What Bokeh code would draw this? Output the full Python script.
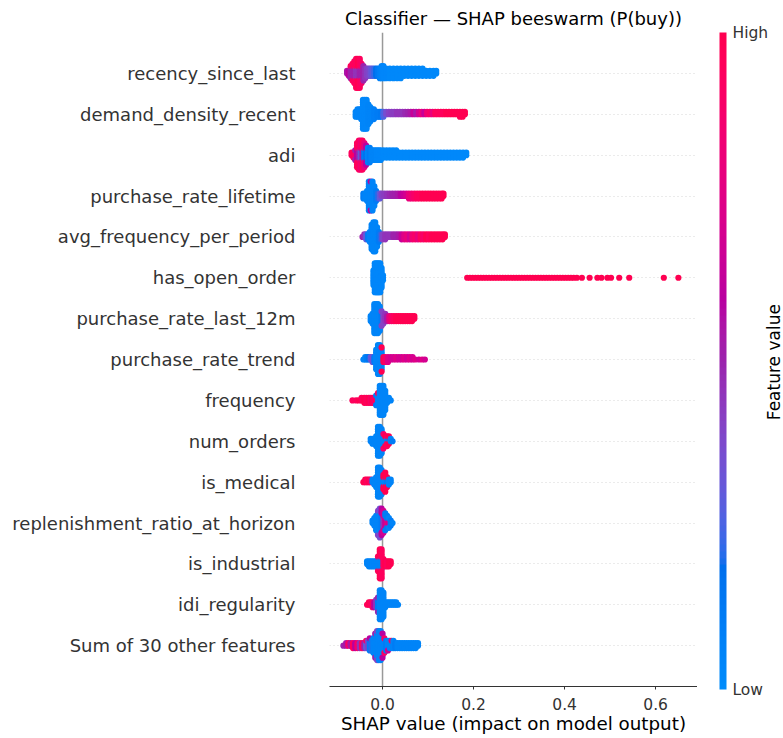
import numpy as np
from bokeh.plotting import figure
from bokeh.layouts import row
from bokeh.models import (ColumnDataSource, ColorBar, LinearColorMapper, FixedTicker,
                          Span, Label, Range1d, PrintfTickFormatter)
from bokeh.embed import file_html
from bokeh.resources import INLINE

# ---------------- data ----------------
FEATURES = ["Sum of 30 other features", "idi_regularity", "is_industrial",
            "replenishment_ratio_at_horizon", "is_medical", "num_orders", "frequency",
            "purchase_rate_trend", "purchase_rate_last_12m", "has_open_order",
            "avg_frequency_per_period", "purchase_rate_lifetime", "adi",
            "demand_density_recent", "recency_since_last"]
X_TICKS = [0.0, 0.2, 0.4, 0.6]

# each feature: SHAP value of a bin (x), number of samples in it (n), feature value 0..1 (f)
recency_x = [-0.078, -0.074, -0.070, -0.070, -0.066, -0.066, -0.062, -0.062, -0.058, -0.058,
             -0.054, -0.054, -0.050, -0.050, -0.046, -0.046, -0.042, -0.038, -0.034, -0.030,
             -0.026, -0.022, -0.018, -0.014, -0.010, -0.006, -0.002, 0.002, 0.008, 0.016,
             0.024, 0.032, 0.040, 0.048, 0.056, 0.064, 0.072, 0.080, 0.088, 0.096,
             0.104, 0.112, 0.118]
recency_n = [2, 3, 5, 1, 5, 3, 5, 5, 5, 8,
             5, 8, 5, 8, 5, 4, 7, 5, 4, 4,
             4, 4, 4, 4, 4, 5, 6, 6, 5, 5,
             5, 5, 5, 4, 4, 4, 4, 4, 4, 3,
             3, 3, 2]
recency_f = [0.55, 0.6, 0.5, 0.95, 0.5, 0.95, 0.5, 0.95, 0.45, 0.95,
             0.45, 1.0, 0.5, 0.95, 0.5, 0.9, 0.5, 0.45, 0.4, 0.38,
             0.32, 0.28, 0.22, 0.18, 0.12, 0.08, 0.05, 0.03, 0.03, 0.02,
             0.02, 0.02, 0.02, 0.02, 0.02, 0.02, 0.02, 0.02, 0.02, 0.02,
             0.02, 0.02, 0.02]

demand_x = [-0.059, -0.055, -0.051, -0.047, -0.043, -0.039, -0.035, -0.031, -0.027, -0.023,
            -0.019, -0.015, -0.011, -0.007, -0.003, 0.002, 0.008, 0.014, 0.020, 0.026,
            0.032, 0.038, 0.044, 0.050, 0.056, 0.062, 0.068, 0.074, 0.080, 0.086,
            0.092, 0.098, 0.104, 0.110, 0.116, 0.122, 0.128, 0.134, 0.140, 0.146,
            0.152, 0.158, 0.164, 0.170, 0.176, 0.181]
demand_n = [3, 4, 4, 5, 13, 13, 13, 9, 7, 5,
            5, 3, 3, 3, 3, 3, 2, 2, 2, 2,
            2, 2, 2, 2, 2, 2, 2, 2, 2, 2,
            2, 2, 2, 2, 2, 2, 2, 2, 2, 2,
            2, 2, 2, 3, 3, 2]
demand_f = [0.05, 0.05, 0.05, 0.05, 0.03, 0.03, 0.03, 0.05, 0.05, 0.05,
            0.08, 0.08, 0.1, 0.1, 0.12, 0.25, 0.35, 0.4, 0.42, 0.42,
            0.45, 0.45, 0.45, 0.48, 0.5, 0.55, 0.65, 0.55, 0.7, 0.8,
            0.65, 0.85, 0.9, 0.8, 0.95, 0.95, 0.95, 0.95, 1.0, 1.0,
            1.0, 1.0, 1.0, 1.0, 1.0, 1.0]

adi_x = [-0.068, -0.064, -0.060, -0.060, -0.056, -0.056, -0.052, -0.052, -0.048, -0.048,
         -0.044, -0.044, -0.040, -0.040, -0.036, -0.036, -0.032, -0.028, -0.024, -0.020,
         -0.016, -0.012, -0.008, -0.004, 0.002, 0.009, 0.016, 0.023, 0.030, 0.037,
         0.044, 0.051, 0.058, 0.065, 0.072, 0.079, 0.086, 0.093, 0.100, 0.107,
         0.114, 0.121, 0.128, 0.135, 0.142, 0.149, 0.156, 0.163, 0.170, 0.177,
         0.184]
adi_n = [2, 3, 3, 2, 5, 6, 5, 8, 5, 8,
         5, 8, 5, 6, 5, 4, 7, 7, 5, 5,
         5, 5, 5, 5, 4, 4, 4, 4, 4, 3,
         3, 3, 3, 3, 3, 3, 3, 3, 3, 3,
         3, 3, 3, 3, 3, 3, 3, 3, 3, 3,
         2]
adi_f = [0.95, 0.95, 0.9, 0.5, 0.6, 0.95, 0.5, 0.95, 0.3, 0.85,
         0.5, 0.95, 0.1, 0.8, 0.15, 0.6, 0.05, 0.1, 0.05, 0.05,
         0.05, 0.03, 0.03, 0.03, 0.02, 0.02, 0.02, 0.02, 0.02, 0.02,
         0.02, 0.02, 0.02, 0.02, 0.02, 0.02, 0.02, 0.02, 0.02, 0.02,
         0.02, 0.02, 0.02, 0.02, 0.02, 0.02, 0.02, 0.02, 0.02, 0.02,
         0.02]

prl_x = [-0.042, -0.038, -0.034, -0.030, -0.026, -0.026, -0.022, -0.018, -0.014, -0.010,
         -0.006, -0.002, 0.004, 0.010, 0.016, 0.022, 0.028, 0.034, 0.040, 0.046,
         0.052, 0.058, 0.064, 0.070, 0.076, 0.082, 0.088, 0.094, 0.100, 0.106,
         0.112, 0.118, 0.124, 0.130, 0.134]
prl_n = [3, 3, 5, 13, 11, 2, 13, 9, 5, 3,
         3, 2, 2, 2, 2, 2, 2, 2, 2, 2,
         2, 3, 3, 3, 3, 3, 3, 3, 3, 3,
         3, 3, 3, 3, 2]
prl_f = [0.1, 0.05, 0.05, 0.05, 0.05, 0.6, 0.05, 0.05, 0.1, 0.2,
         0.3, 0.4, 0.42, 0.45, 0.48, 0.5, 0.52, 0.55, 0.6, 0.65,
         0.7, 0.8, 0.85, 0.9, 0.95, 0.95, 1.0, 1.0, 1.0, 1.0,
         1.0, 1.0, 1.0, 1.0, 1.0]

afp_x = [-0.044, -0.040, -0.036, -0.032, -0.028, -0.024, -0.020, -0.016, -0.012, -0.008,
         -0.004, 0.000, 0.006, 0.012, 0.018, 0.024, 0.030, 0.036, 0.042, 0.048,
         0.054, 0.060, 0.066, 0.072, 0.078, 0.084, 0.090, 0.096, 0.102, 0.108,
         0.114, 0.120, 0.126, 0.132, 0.137]
afp_n = [1, 2, 3, 3, 5, 11, 13, 13, 9, 5,
         3, 3, 3, 2, 2, 2, 2, 2, 3, 3,
         3, 3, 3, 3, 3, 3, 3, 3, 3, 3,
         3, 3, 3, 3, 2]
afp_f = [0.5, 0.45, 0.3, 0.1, 0.05, 0.05, 0.05, 0.05, 0.05, 0.1,
         0.2, 0.4, 0.45, 0.45, 0.45, 0.5, 0.5, 0.55, 0.65, 0.75,
         0.8, 0.7, 0.85, 0.9, 0.8, 0.95, 0.9, 1.0, 0.95, 1.0,
         1.0, 1.0, 1.0, 1.0, 1.0]

hoo_x = [-0.020, -0.017, -0.014, -0.011, -0.008, -0.005, -0.002, 0.001,
         0.186, 0.192, 0.198, 0.204, 0.210, 0.216, 0.222, 0.228, 0.234, 0.240,
         0.246, 0.252, 0.258, 0.264, 0.270, 0.276, 0.282, 0.288, 0.294, 0.300,
         0.306, 0.312, 0.318, 0.324, 0.330, 0.336, 0.342, 0.348, 0.354, 0.360,
         0.366, 0.372, 0.378, 0.384, 0.390, 0.396, 0.402, 0.408, 0.414, 0.420,
         0.427, 0.438, 0.455, 0.472, 0.481, 0.494, 0.502, 0.520, 0.542, 0.618,
         0.650]
hoo_n = [7, 13, 13, 13, 13, 13, 9, 3,
         1, 1, 1, 1, 1, 1, 1, 1, 1, 1,
         1, 1, 1, 1, 1, 1, 1, 1, 1, 1,
         1, 1, 1, 1, 1, 1, 1, 1, 1, 1,
         1, 1, 1, 1, 1, 1, 1, 1, 1, 1,
         1, 1, 1, 1, 1, 1, 1, 1, 1, 1,
         1]
hoo_f = [0.03, 0.03, 0.03, 0.03, 0.03, 0.03, 0.03, 0.03,
         1.0, 1.0, 1.0, 1.0, 1.0, 1.0, 1.0, 1.0, 1.0, 1.0,
         1.0, 1.0, 1.0, 1.0, 1.0, 1.0, 1.0, 1.0, 1.0, 1.0,
         1.0, 1.0, 1.0, 1.0, 1.0, 1.0, 1.0, 1.0, 1.0, 1.0,
         1.0, 1.0, 1.0, 1.0, 1.0, 1.0, 1.0, 1.0, 1.0, 1.0,
         1.0, 1.0, 1.0, 1.0, 1.0, 1.0, 1.0, 1.0, 1.0, 1.0,
         1.0]

p12_x = [-0.026, -0.022, -0.018, -0.014, -0.010, -0.006, -0.002, -0.002, 0.002, 0.006,
         0.010, 0.015, 0.020, 0.025, 0.030, 0.035, 0.040, 0.045, 0.050, 0.055,
         0.060, 0.065, 0.070]
p12_n = [3, 5, 13, 13, 13, 11, 5, 2, 5, 4,
         3, 3, 3, 3, 3, 3, 3, 3, 3, 3,
         3, 3, 2]
p12_f = [0.05, 0.05, 0.05, 0.05, 0.05, 0.05, 0.1, 0.4, 0.4, 0.45,
         0.55, 0.8, 0.9, 0.95, 1.0, 1.0, 1.0, 1.0, 1.0, 1.0,
         1.0, 1.0, 1.0]

prt_x = [-0.042, -0.038, -0.034, -0.030, -0.026, -0.022, -0.018, -0.014, -0.010, -0.006,
         -0.002, -0.002, 0.002, 0.006, 0.012, 0.018, 0.024, 0.030, 0.036, 0.042,
         0.048, 0.054, 0.060, 0.066, 0.072, 0.080, 0.087, 0.093]
prt_n = [1, 2, 2, 2, 2, 3, 3, 9, 13, 13,
         9, 2, 3, 3, 3, 2, 2, 2, 2, 2,
         2, 2, 2, 2, 1, 1, 1, 1]
prt_f = [0.05, 0.05, 0.1, 0.15, 0.3, 0.35, 0.1, 0.05, 0.05, 0.05,
         0.05, 1.0, 1.0, 0.9, 0.75, 0.7, 0.7, 0.75, 0.7, 0.7,
         0.75, 0.7, 0.75, 0.7, 0.75, 0.7, 0.75, 0.7]

freq_x = [-0.066, -0.058, -0.052, -0.046, -0.040, -0.035, -0.030, -0.026, -0.022, -0.018,
          -0.014, -0.014, -0.010, -0.010, -0.006, -0.002, 0.002, 0.006, 0.010, 0.014,
          0.018]
freq_n = [1, 1, 1, 2, 3, 3, 3, 3, 3, 3,
          3, 2, 5, 1, 13, 13, 13, 9, 3, 2,
          1]
freq_f = [0.95, 0.95, 1.0, 0.95, 1.0, 0.95, 1.0, 0.9, 1.0, 0.9,
          0.95, 0.1, 0.05, 0.95, 0.05, 0.05, 0.05, 0.05, 0.05, 0.05,
          0.05]

nord_x = [-0.026, -0.022, -0.018, -0.014, -0.010, -0.006, -0.002, 0.002, 0.002, 0.006,
          0.006, 0.010, 0.010, 0.014, 0.014, 0.018, 0.022]
nord_n = [2, 3, 3, 5, 13, 13, 11, 5, 2, 3,
          2, 2, 3, 2, 2, 2, 1]
nord_f = [0.05, 0.05, 0.05, 0.05, 0.05, 0.05, 0.05, 0.05, 0.9, 0.05,
          1.0, 0.05, 0.95, 0.1, 1.0, 0.05, 0.1]

med_x = [-0.042, -0.038, -0.034, -0.030, -0.026, -0.022, -0.018, -0.014, -0.010, -0.006,
         -0.002, 0.002, 0.002, 0.006, 0.006, 0.010, 0.010, 0.014, 0.018]
med_n = [1, 2, 2, 2, 2, 2, 3, 5, 13, 13,
         11, 3, 4, 3, 6, 3, 2, 3, 2]
med_f = [1.0, 1.0, 0.95, 1.0, 0.9, 0.05, 0.05, 0.05, 0.05, 0.05,
         0.05, 0.05, 1.0, 0.05, 1.0, 0.1, 1.0, 0.05, 0.05]

rep_x = [-0.022, -0.018, -0.014, -0.010, -0.010, -0.006, -0.006, -0.002, -0.002, 0.002,
         0.002, 0.006, 0.006, 0.010, 0.010, 0.014, 0.014, 0.018, 0.022]
rep_n = [2, 4, 7, 9, 2, 9, 4, 7, 5, 5,
         5, 5, 3, 3, 3, 3, 2, 3, 1]
rep_f = [0.05, 0.05, 0.05, 0.05, 0.4, 0.05, 0.35, 0.1, 0.6, 0.45,
         0.7, 0.65, 0.1, 0.75, 0.1, 0.7, 0.05, 0.1, 0.05]

ind_x = [-0.034, -0.030, -0.026, -0.022, -0.018, -0.014, -0.010, -0.010, -0.006, -0.006,
         -0.002, -0.002, 0.002, 0.006, 0.010, 0.014, 0.018]
ind_n = [2, 3, 3, 3, 3, 3, 5, 2, 5, 8,
         5, 8, 4, 3, 3, 3, 2]
ind_f = [0.05, 0.05, 0.05, 0.05, 0.05, 0.05, 0.05, 0.95, 0.05, 1.0,
         0.05, 0.95, 0.95, 1.0, 0.95, 1.0, 1.0]

idi_x = [-0.034, -0.030, -0.026, -0.022, -0.018, -0.014, -0.010, -0.010, -0.006, -0.002,
         0.002, 0.006, 0.010, 0.014, 0.018, 0.022, 0.026, 0.030, 0.034]
idi_n = [1, 2, 2, 3, 3, 4, 5, 2, 13, 13,
         11, 3, 2, 2, 2, 2, 2, 2, 1]
idi_f = [0.95, 1.0, 0.95, 0.9, 0.6, 0.45, 0.1, 0.5, 0.05, 0.05,
         0.05, 0.05, 0.05, 0.05, 0.05, 0.05, 0.05, 0.05, 0.05]

sum_x = [-0.086, -0.080, -0.075, -0.070, -0.065, -0.060, -0.055, -0.050, -0.045, -0.040,
         -0.036, -0.036, -0.032, -0.028, -0.028, -0.024, -0.020, -0.016, -0.016, -0.012,
         -0.012, -0.008, -0.004, 0.000, 0.000, 0.004, 0.004, 0.008, 0.012, 0.012,
         0.016, 0.020, 0.020, 0.024, 0.028, 0.033, 0.038, 0.043, 0.048, 0.053,
         0.058, 0.063, 0.068, 0.073, 0.078]
sum_n = [1, 2, 2, 2, 3, 3, 3, 3, 3, 3,
         3, 1, 4, 5, 1, 5, 7, 9, 2, 11,
         2, 13, 13, 9, 2, 5, 2, 5, 4, 1,
         4, 3, 1, 4, 3, 3, 3, 3, 3, 3,
         3, 3, 3, 3, 2]
sum_f = [0.5, 0.55, 0.9, 0.55, 0.95, 0.6, 0.9, 0.45, 0.95, 0.5,
         0.3, 0.9, 0.4, 0.1, 0.6, 0.2, 0.05, 0.05, 0.5, 0.05,
         0.4, 0.05, 0.05, 0.05, 0.6, 0.05, 0.9, 0.1, 0.05, 0.7,
         0.05, 0.05, 0.9, 0.05, 0.1, 0.05, 0.05, 0.05, 0.05, 0.05,
         0.05, 0.05, 0.05, 0.05, 0.05]

ROW_DATA = [(sum_x, sum_n, sum_f), (idi_x, idi_n, idi_f), (ind_x, ind_n, ind_f),
            (rep_x, rep_n, rep_f), (med_x, med_n, med_f), (nord_x, nord_n, nord_f),
            (freq_x, freq_n, freq_f), (prt_x, prt_n, prt_f), (p12_x, p12_n, p12_f),
            (hoo_x, hoo_n, hoo_f), (afp_x, afp_n, afp_f), (prl_x, prl_n, prl_f),
            (adi_x, adi_n, adi_f), (demand_x, demand_n, demand_f),
            (recency_x, recency_n, recency_f)]

# ---------------- colour map (SHAP red_blue, LCH interpolation) ----------------
def lch_to_hex(L, C, H):
    a, b = C * np.cos(H), C * np.sin(H)
    fy = (L + 16) / 116
    fx, fz = fy + a / 500, fy - b / 200
    def finv(t):
        return t ** 3 if t > 6 / 29 else 3 * (6 / 29) ** 2 * (t - 4 / 29)
    X, Y, Z = 0.95047 * finv(fx), finv(fy), 1.08883 * finv(fz)
    lin = [3.2406 * X - 1.5372 * Y - 0.4986 * Z,
           -0.9689 * X + 1.8758 * Y + 0.0415 * Z,
           0.0557 * X - 0.2040 * Y + 1.0570 * Z]
    out = []
    for c in lin:
        c = max(c, 0.0)
        c = 1.055 * c ** (1 / 2.4) - 0.055 if c > 0.0031308 else 12.92 * c
        out.append(int(round(min(max(c, 0.0), 1.0) * 255)))
    return "#%02x%02x%02x" % tuple(out)

NSTEP = 100
blue_lch = (54.0, 70.0, 4.6588)
red_lch = (54.0, 90.0, 0.35470565 + 2 * np.pi)
l_vals = list(np.linspace(blue_lch[0], 40.0, NSTEP // 2)) + list(np.linspace(40.0, red_lch[0], NSTEP // 2))
c_vals = np.linspace(blue_lch[1], red_lch[1], NSTEP)
h_vals = np.linspace(blue_lch[2], red_lch[2], NSTEP)
PALETTE = [lch_to_hex(l, c, h) for l, c, h in zip(l_vals, c_vals, h_vals)]

# ---------------- beeswarm layout ----------------
DY = 0.059  # vertical step between stacked points (row units)
px, py, pc = [], [], []
for r, (xs, ns, fs) in enumerate(ROW_DATA):
    assert len(xs) == len(ns) == len(fs), (r, len(xs), len(ns), len(fs))
    level = {}
    for x, n, f in zip(xs, ns, fs):
        key = round(x, 4)
        for _ in range(n):
            k = level.get(key, 0)
            level[key] = k + 1
            off = ((k + 1) // 2) * (1 if k % 2 else -1)
            px.append(x)
            py.append(r + off * DY)
            pc.append(PALETTE[int(round(f * (NSTEP - 1)))])

FONT = "DejaVu Sans"
p = figure(width=697, height=738, output_backend="svg", toolbar_location=None,
           x_range=Range1d(-0.1165, 0.692), y_range=Range1d(-1, 15),
           min_border_left=329, min_border_right=0, min_border_top=32, min_border_bottom=52,
           title="Classifier \u2014 SHAP beeswarm (P(buy))")
p.outline_line_color = None
p.background_fill_color = "white"
p.border_fill_color = "white"

p.title.align = "center"
p.title.text_font = FONT
p.title.text_font_size = "18px"
p.title.text_font_style = "normal"
p.title.text_color = "#000000"
p.title.standoff = 7

# grid: dotted line per feature row
p.xgrid.grid_line_color = None
p.ygrid.ticker = FixedTicker(ticks=list(range(len(FEATURES))))
p.ygrid.grid_line_color = "#cccccc"
p.ygrid.grid_line_width = 0.8
p.ygrid.grid_line_dash = "1 3"

p.add_layout(Span(location=0, dimension="height", line_color="#999999",
                  line_width=1.5, level="underlay"))

src = ColumnDataSource(dict(x=px, y=py, c=pc))
p.scatter("x", "y", source=src, size=6.2, fill_color="c", line_color=None)

# y axis: feature names
ya = p.yaxis[0]
ya.ticker = FixedTicker(ticks=list(range(len(FEATURES))))
ya.major_label_overrides = {i: name for i, name in enumerate(FEATURES)}
ya.axis_line_color = None
ya.major_tick_line_color = None
ya.minor_tick_line_color = None
ya.major_tick_out = 0
ya.major_tick_in = 0
ya.major_label_standoff = 34
ya.major_label_text_font = FONT
ya.major_label_text_font_size = "18px"
ya.major_label_text_color = "#333333"

# x axis
xa = p.xaxis[0]
xa.ticker = FixedTicker(ticks=X_TICKS)
xa.formatter = PrintfTickFormatter(format="%.1f")
xa.axis_line_color = "#333333"
xa.axis_line_width = 1.1
xa.major_tick_line_color = "#333333"
xa.major_tick_out = 3
xa.major_tick_in = 0
xa.minor_tick_line_color = None
xa.major_label_standoff = 8
xa.major_label_text_font = FONT
xa.major_label_text_font_size = "15.5px"
xa.major_label_text_color = "#333333"
xa.axis_label = "SHAP value (impact on model output)"
xa.axis_label_text_font = FONT
xa.axis_label_text_font_size = "18.3px"
xa.axis_label_text_font_style = "normal"
xa.axis_label_text_color = "#000000"
xa.axis_label_standoff = 0

# ---------------- colour bar panel (second, narrow figure) ----------------
p2 = figure(width=86, height=738, output_backend="svg", toolbar_location=None,
            x_range=Range1d(0, 86), y_range=Range1d(0, 738),
            x_axis_type=None, y_axis_type=None,
            min_border_left=0, min_border_right=0, min_border_top=0, min_border_bottom=0)
p2.outline_line_color = None
p2.background_fill_color = "white"
p2.border_fill_color = "white"

mapper = LinearColorMapper(palette=PALETTE, low=0, high=1)
cb = ColorBar(color_mapper=mapper, ticker=FixedTicker(ticks=[0, 1]),
              major_label_overrides={0: "Low", 1: "High"},
              width=7, height=657, location=(22, -3), margin=0, padding=0, label_standoff=6,
              major_tick_line_color=None, minor_tick_line_color=None,
              bar_line_color=None, border_line_color=None, background_fill_color=None,
              major_label_text_font=FONT, major_label_text_font_size="15.5px",
              major_label_text_color="#333333")
p2.add_layout(cb, "center")

p2.add_layout(Label(x=76, y=366, text="Feature value", angle=np.pi / 2,
                    text_align="center", text_baseline="middle", text_font=FONT,
                    text_font_size="17px", text_color="#000000"))

layout = row(p, p2)
open("out.html", "w").write(file_html(layout, INLINE))
